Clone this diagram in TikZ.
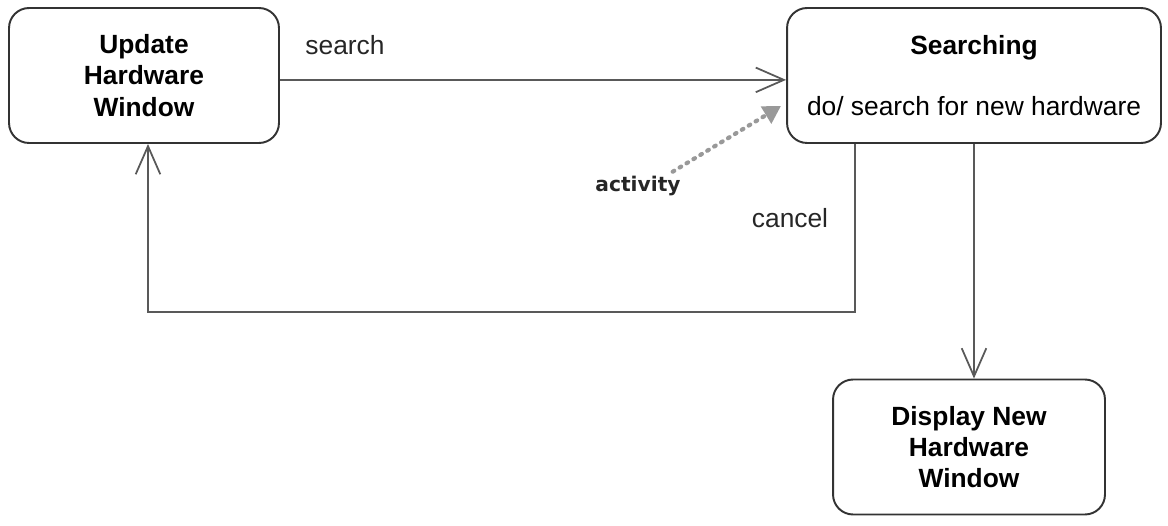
\documentclass[tikz,border=0pt]{standalone}
\usepackage{fontspec}
\setmainfont{Liberation Sans}
\newfontfamily\handfont{DejaVu Sans}
\usetikzlibrary{arrows.meta, shapes}

\begin{document}
\begin{tikzpicture}[x=0.02cm, y=-0.02cm,
		state/.style={draw=black!80, line width=1.1pt, rounded corners=0.4cm, align=center, minimum height=2.7cm, font=\fontsize{15}{17.8}\selectfont\bfseries},
		trans/.style={draw=black!65, line width=1pt, -{Straight Barb[length=16pt, width=14pt, line width=1pt]}},
		activityarrow/.style={draw=black!40, line width=2.4pt, line cap=round, dash pattern=on 1pt off 3.6pt, -{Triangle[length=10pt, width=11pt, fill=black!40]}},
		lbl/.style={font=\fontsize{15}{17.8}\selectfont, text=black!85}]
	%\draw[step=50, color=gray] (0,0) grid (1168,526);
	\useasboundingbox (0,0) rectangle (1168,526);
	\node[state, minimum width=5.4cm] (upd) at (144,75.5) {Update\\Hardware\\Window};
	\node[state, minimum width=7.48cm] (srch) at (974,75.5) {Searching\\[17pt]\mdseries do/ search for new hardware};
	\node[state, minimum width=5.44cm] (disp) at (969,447) {Display New\\Hardware\\Window};
	\draw[trans] ([yshift=-2.5pt]upd.east) -- ([yshift=-2.5pt]srch.west);
	\node[lbl] (searchlbl) at (345,45) {search};
	% cancel goes back round the bottom
	\coordinate (c1) at (855,312);
	\coordinate (c2) at (148,312);
	\draw[trans] (srch.south -| c1) -- (c1) -- (c2) -- (upd.south -| c2);
	\node[lbl] (cancellbl) at (790,218) {cancel};
	\draw[trans] (srch.south) -- (srch.south |- disp.north);
	% activity note
	\node[font=\handfont\fontsize{11.5}{13}\selectfont\bfseries, text=black!85] (act) at (638,186) {activity};
	\coordinate (actend) at (781,106);
	\draw[activityarrow] ([xshift=-8pt, yshift=-1pt]act.north east) -- (actend);
\end{tikzpicture}
\end{document}
